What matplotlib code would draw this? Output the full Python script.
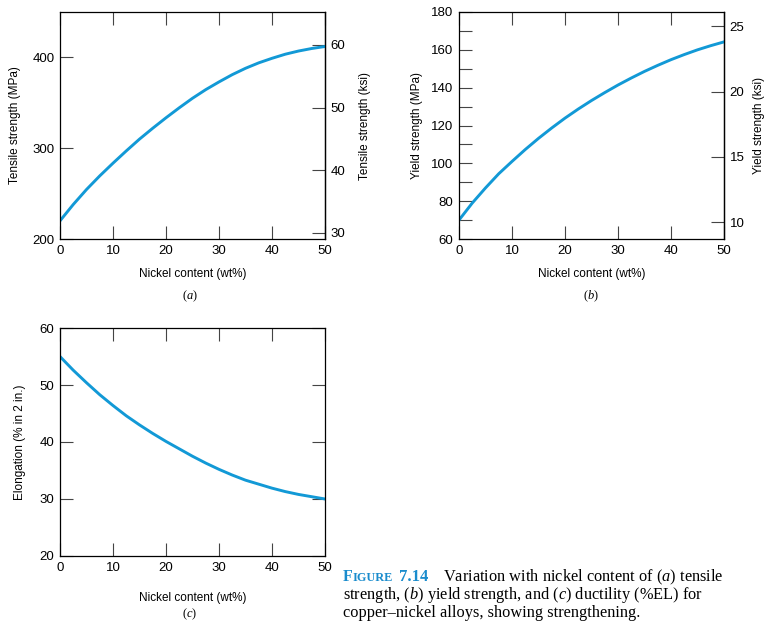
import matplotlib
matplotlib.use("Agg")
import matplotlib.pyplot as plt

plt.rcParams['font.family'] = ['Liberation Sans', 'DejaVu Sans']
plt.rcParams['mathtext.fontset'] = 'custom'
plt.rcParams['mathtext.it'] = 'Liberation Serif:italic'
plt.rcParams['mathtext.rm'] = 'Liberation Serif'

# ---- data ----
nickel = [0, 2.5, 5, 7.5, 10, 12.5, 15, 17.5, 20, 22.5, 25,
          27.5, 30, 32.5, 35, 37.5, 40, 42.5, 45, 47.5, 50]
tensile_mpa = [220, 238, 254.5, 269.5, 283.5, 297, 310, 322, 333.5, 344.5, 355,
               364.5, 373, 381, 388, 394, 399, 403.5, 407, 409.8, 412]
yield_mpa = [70, 79, 87, 94.5, 101, 107.3, 113.2, 118.7, 123.9, 128.7, 133.2,
             137.4, 141.4, 145.1, 148.6, 151.8, 154.8, 157.5, 160, 162.2, 164.2]
elongation = [55, 52.6, 50.4, 48.3, 46.4, 44.6, 43, 41.5, 40.1, 38.8, 37.5,
              36.3, 35.2, 34.2, 33.3, 32.6, 31.9, 31.3, 30.8, 30.4, 30]

x_ticks = [0, 10, 20, 30, 40, 50]
tensile_ticks = [200, 300, 400]
tensile_ksi_ticks = [30, 40, 50, 60]
yield_ticks = [60, 80, 100, 120, 140, 160, 180]
yield_minor = [70, 90, 110, 130, 150, 170]
yield_ksi_ticks = [10, 15, 20, 25]
elong_ticks = [20, 30, 40, 50, 60]

MPA_PER_KSI = 6.895
LINE_COLOR = '#1299d6'
TICK_FS = 9.5
LABEL_FS = 8.5

fig = plt.figure(figsize=(7.66, 6.21), dpi=100)

def style(ax):
    for s in ax.spines.values():
        s.set_linewidth(0.9)
        s.set_color('black')
    ax.tick_params(axis='both', which='both', direction='in', length=9.5,
                   width=0.8, color='#444444', labelsize=TICK_FS, pad=4)
    ax.tick_params(axis='x', top=True, bottom=True)

def to_ksi(v):
    return v / MPA_PER_KSI

def to_mpa(v):
    return v * MPA_PER_KSI

# (a)
axa = fig.add_axes([0.0783, 0.6151, 0.346, 0.3656])
axa.plot(nickel, tensile_mpa, color=LINE_COLOR, lw=2.1)
axa.set_xlim(0, 50)
axa.set_ylim(200, 450)
axa.set_xticks(x_ticks)
axa.set_yticks(tensile_ticks)
style(axa)
axa.tick_params(axis='y', right=False)
axa.set_xlabel('Nickel content (wt%)', fontsize=LABEL_FS, labelpad=8)
axa.set_ylabel('Tensile strength (MPa)', fontsize=LABEL_FS, labelpad=8)
sa = axa.secondary_yaxis('right', functions=(to_ksi, to_mpa))
sa.set_yticks(tensile_ksi_ticks)
sa.tick_params(direction='in', length=9.5, width=0.8, color='#444444', labelsize=TICK_FS, pad=4)
sa.spines['right'].set_linewidth(0.9)
sa.set_ylabel('Tensile strength (ksi)', fontsize=LABEL_FS, labelpad=10)
fig.text(0.248, 0.523, r'$(\mathit{a})$', ha='center', va='center', fontsize=9)

# (b)
axb = fig.add_axes([0.5992, 0.6151, 0.346, 0.3656])
axb.plot(nickel, yield_mpa, color=LINE_COLOR, lw=2.1)
axb.set_xlim(0, 50)
axb.set_ylim(60, 180)
axb.set_xticks(x_ticks)
axb.set_yticks(yield_ticks)
axb.set_yticks(yield_minor, minor=True)
style(axb)
axb.tick_params(axis='y', right=False, which='both')
axb.set_xlabel('Nickel content (wt%)', fontsize=LABEL_FS, labelpad=8)
axb.set_ylabel('Yield strength (MPa)', fontsize=LABEL_FS, labelpad=6)
sb = axb.secondary_yaxis('right', functions=(to_ksi, to_mpa))
sb.set_yticks(yield_ksi_ticks)
sb.tick_params(direction='in', length=9.5, width=0.8, color='#444444', labelsize=TICK_FS, pad=4)
sb.spines['right'].set_linewidth(0.9)
sb.set_ylabel('Yield strength (ksi)', fontsize=LABEL_FS, labelpad=6)
fig.text(0.771, 0.523, r'$(\mathit{b})$', ha='center', va='center', fontsize=9)

# (c)
axc = fig.add_axes([0.0783, 0.1047, 0.346, 0.3671])
axc.plot(nickel, elongation, color=LINE_COLOR, lw=2.1)
axc.set_xlim(0, 50)
axc.set_ylim(20, 60)
axc.set_xticks(x_ticks)
axc.set_yticks(elong_ticks)
style(axc)
axc.tick_params(axis='y', right=True, labelright=False)
axc.set_xlabel('Nickel content (wt%)', fontsize=LABEL_FS, labelpad=13)
axc.set_ylabel('Elongation (% in 2 in.)', fontsize=LABEL_FS, labelpad=10)
fig.text(0.248, 0.0105, r'$(\mathit{c})$', ha='center', va='center', fontsize=9)

# caption
renderer = fig.canvas.get_renderer()
BLUE = '#1a8ccd'
x0, y1 = 0.448, 0.0645
t1 = fig.text(x0, y1, 'F', fontsize=11.5, color=BLUE, fontweight='bold',
              family='Liberation Serif', va='baseline')
bb = t1.get_window_extent(renderer)
x = bb.x1 / fig.bbox.width
t2 = fig.text(x, y1, 'IGURE', fontsize=8.8, color=BLUE, fontweight='bold',
              family='Liberation Serif', va='baseline')
bb = t2.get_window_extent(renderer)
x = bb.x1 / fig.bbox.width + 0.007
t3 = fig.text(x, y1, '7.14', fontsize=12, color=BLUE, fontweight='bold',
              family='Liberation Serif', va='baseline')
cap_fs = 11.8
fig.text(0.578, y1, r'Variation with nickel content of $(\mathit{a})$ tensile',
         fontsize=cap_fs, family='Liberation Serif', va='baseline')
fig.text(x0, y1 - 0.029, r'strength, $(\mathit{b})$ yield strength, and $(\mathit{c})$ ductility (%EL) for',
         fontsize=cap_fs, family='Liberation Serif', va='baseline')
fig.text(x0, y1 - 0.058, 'copper–nickel alloys, showing strengthening.',
         fontsize=cap_fs, family='Liberation Serif', va='baseline')

fig.savefig('out.png', dpi=100)
